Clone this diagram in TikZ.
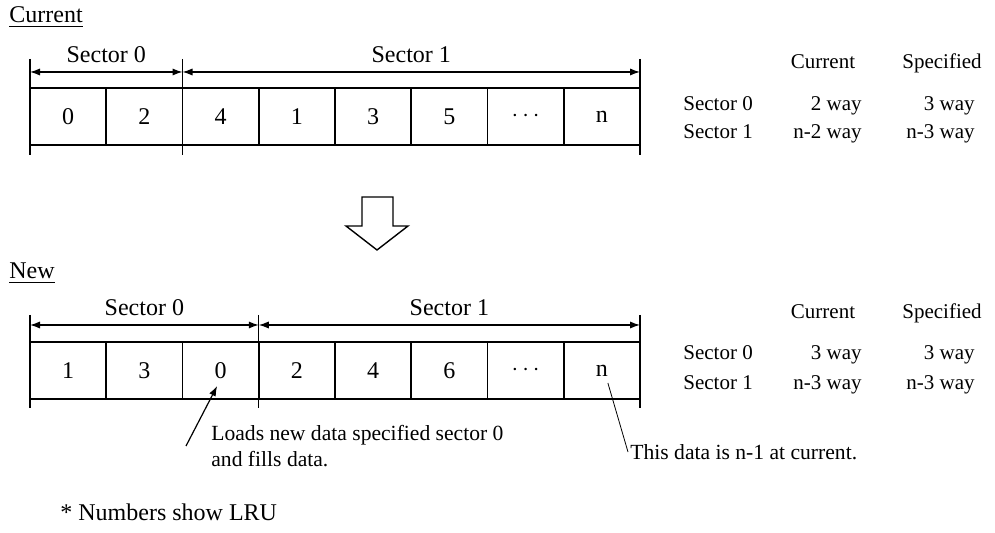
\documentclass[tikz,border=0pt]{standalone}
\usepackage{fontspec}
\setmainfont{Liberation Serif}
\usepackage{tikz}
\usetikzlibrary{positioning, arrows.meta}

\begin{document}
\begin{tikzpicture}[
  x=0.5pt, y=-0.5pt,
  font=\fontsize{12}{14}\selectfont,
  cell/.style={draw, line width=0.8pt, minimum width=38.125pt, minimum height=28.5pt, inner sep=0pt, outer sep=0pt},
  dim/.style={{Latex[length=5pt,width=3.6pt]}-{Latex[length=5pt,width=3.6pt]}, line width=0.6pt},
  tick/.style={line width=0.6pt},
  tab/.style={font=\fontsize{10.5}{12}\selectfont, inner sep=0pt},
  note/.style={font=\fontsize{10.8}{13}\selectfont, align=left, inner sep=0pt},
  arr/.style={-{Latex[length=5pt,width=3.6pt]}, line width=0.6pt}
]
\useasboundingbox (0,0) rectangle (995,533);

% current state
\node[anchor=base west, inner sep=0pt] (curtitle) at (9,23) {\underline{Current}};
\node[cell] (a1) at (68.125,116.5) {0};
\node[cell, right=0pt of a1] (a2) {2};
\node[cell, right=0pt of a2] (a3) {4};
\node[cell, right=0pt of a3] (a4) {1};
\node[cell, right=0pt of a4] (a5) {3};
\node[cell, right=0pt of a5] (a6) {5};
\node[cell, right=0pt of a6] (a7) {$\cdots$};
\node[cell, right=0pt of a7] (a8) {n};
\draw[tick] ([yshift=14.5pt]a1.north west) -- ([yshift=-5pt]a1.south west);
\draw[tick] ([yshift=14.5pt]a2.north east) -- ([yshift=-5pt]a2.south east);
\draw[tick] ([yshift=14.5pt]a8.north east) -- ([yshift=-5pt]a8.south east);
\draw[dim] ([yshift=8pt]a1.north west) -- node[above=1pt] (asec0) {Sector 0} ([yshift=8pt]a2.north east);
\draw[dim] ([yshift=8pt]a3.north west) -- node[above=1pt] (asec1) {Sector 1} ([yshift=8pt]a8.north east);

\node[tab, anchor=base] (acurh) at (823,69) {Current};
\node[tab, anchor=base] (aspech) at (942,69) {Specified};
\node[tab, anchor=base west] (arow0) at (683,111) {Sector 0};
\node[tab, anchor=base east] (acur0) at (862,111) {2 way};
\node[tab, anchor=base east] (aspec0) at (975,111) {3 way};
\node[tab, anchor=base west] (arow1) at (683,138.5) {Sector 1};
\node[tab, anchor=base east] (acur1) at (862,138.5) {n-2 way};
\node[tab, anchor=base east] (aspec1) at (975,138.5) {n-3 way};

% transition
\draw[line width=0.7pt] (362,197) -- (393,197) -- (393,226) -- (408,226) -- (377,250) -- (346,226) -- (362,226) -- cycle;

% new state
\node[anchor=base west, inner sep=0pt] (newtitle) at (9,279) {\underline{New}};
\node[cell] (b1) at (68.125,370.5) {1};
\node[cell, right=0pt of b1] (b2) {3};
\node[cell, right=0pt of b2] (b3) {0};
\node[cell, right=0pt of b3] (b4) {2};
\node[cell, right=0pt of b4] (b5) {4};
\node[cell, right=0pt of b5] (b6) {6};
\node[cell, right=0pt of b6] (b7) {$\cdots$};
\node[cell, right=0pt of b7] (b8) {n};
\draw[tick] ([yshift=13.5pt]b1.north west) -- ([yshift=-4.5pt]b1.south west);
\draw[tick] ([yshift=13.5pt]b3.north east) -- ([yshift=-4.5pt]b3.south east);
\draw[tick] ([yshift=13.5pt]b8.north east) -- ([yshift=-4.5pt]b8.south east);
\draw[dim] ([yshift=8.5pt]b1.north west) -- node[above=1pt] (bsec0) {Sector 0} ([yshift=8.5pt]b3.north east);
\draw[dim] ([yshift=8.5pt]b4.north west) -- node[above=1pt] (bsec1) {Sector 1} ([yshift=8.5pt]b8.north east);

\node[tab, anchor=base] (bcurh) at (823,319) {Current};
\node[tab, anchor=base] (bspech) at (942,319) {Specified};
\node[tab, anchor=base west] (brow0) at (683,360) {Sector 0};
\node[tab, anchor=base east] (bcur0) at (862,360) {3 way};
\node[tab, anchor=base east] (bspec0) at (975,360) {3 way};
\node[tab, anchor=base west] (brow1) at (683,390) {Sector 1};
\node[tab, anchor=base east] (bcur1) at (862,390) {n-3 way};
\node[tab, anchor=base east] (bspec1) at (975,390) {n-3 way};

% notes
\node[note, anchor=west] (loadnote) at (211,446) {Loads new data specified sector 0\\and fills data.};
\draw[arr] ([xshift=-12.5pt]loadnote.west) -- ([xshift=-1.75pt,yshift=-7.75pt]b3.center);
\node[note, anchor=west] (nnote) at (630,452) {This data is n-1 at current.};
\draw[line width=0.4pt] ([xshift=3pt,yshift=-6.25pt]b8.center) -- ([xshift=-1pt]nnote.west);

\node[anchor=west, inner sep=0pt] (lru) at (60,512) {* Numbers show LRU};
\end{tikzpicture}
\end{document}
